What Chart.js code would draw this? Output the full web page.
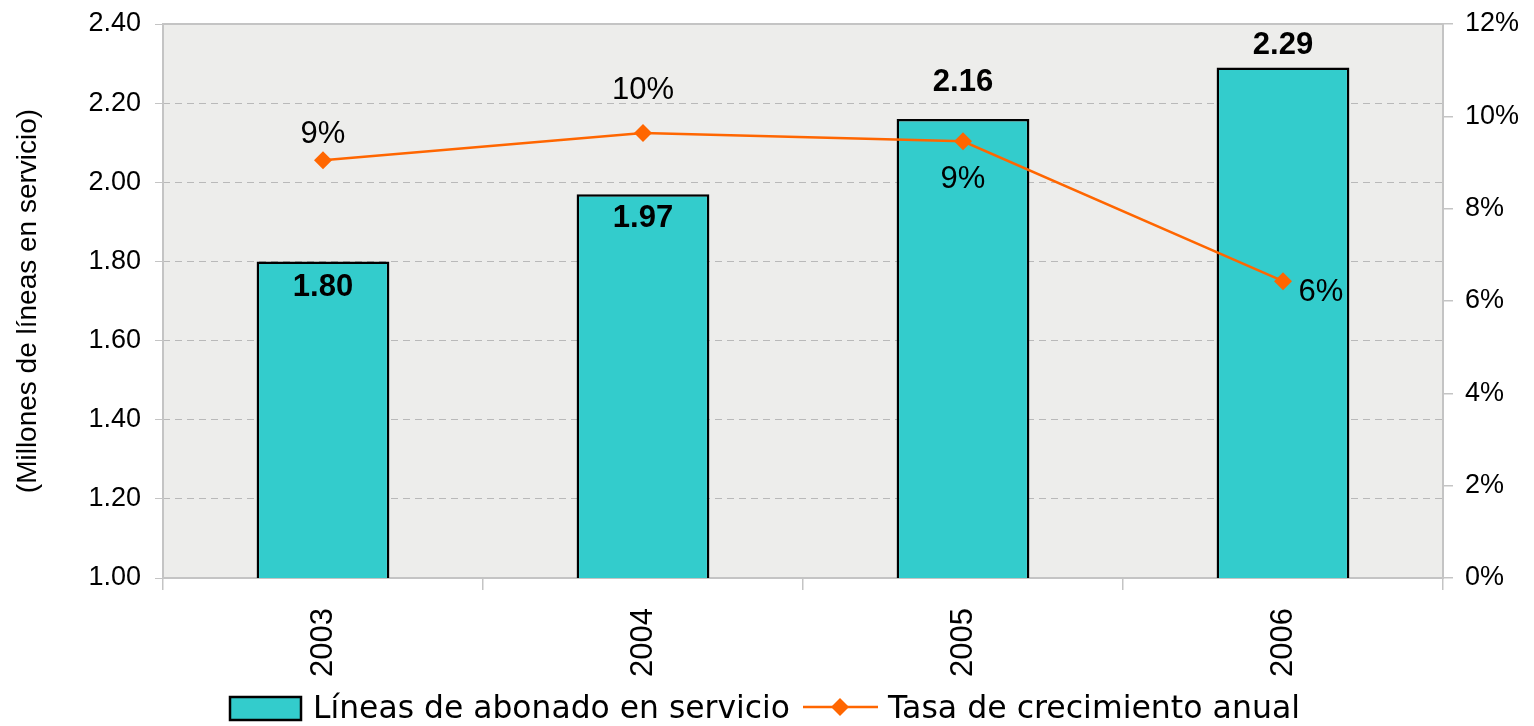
<!DOCTYPE html>
<html>
<head>
<meta charset="utf-8">
<script src="https://cdn.jsdelivr.net/npm/chart.js@4"></script>
<style>
  html, body { margin: 0; padding: 0; background: #ffffff; }
  #wrap { width: 1534px; height: 726px; }
</style>
</head>
<body>
<div id="wrap"><canvas id="c" width="1534" height="726"></canvas></div>
<script>
// ---- data ----
const categories = ['2003', '2004', '2005', '2006'];
const lineasValues = [1.80, 1.97, 2.16, 2.29];        // millones de líneas
const tasaValues = [9.05, 9.64, 9.46, 6.43];           // % crecimiento anual
const leftTickValues = [1.00, 1.20, 1.40, 1.60, 1.80, 2.00, 2.20, 2.40];
const rightTickValues = [0, 2, 4, 6, 8, 10, 12];
const seriesNames = ['Líneas de abonado en servicio', 'Tasa de crecimiento anual'];
const yAxisTitle = '(Millones de líneas en servicio)';

// ---- styles ----
const TEAL = '#33CCCC';
const ORANGE = '#FF6600';
const FRAME = '#c4c4c4';
const TXT = '#000000';

// label placement (style only)
const barLabelDy = [26, 24, -37, -22];
const lineLabelOffsets = [{dx: 0, dy: -26}, {dx: 0, dy: -43}, {dx: 0, dy: 38}, {dx: 38, dy: 11}];

const bgPlugin = {
  id: 'bgFrame',
  beforeDraw(chart) {
    const {ctx, chartArea: a} = chart;
    ctx.save();
    ctx.fillStyle = '#ededeb';
    ctx.fillRect(a.left, a.top, a.right - a.left, a.bottom - a.top);
    ctx.restore();
  },
  beforeDatasetsDraw(chart) {
    const {ctx, chartArea: a} = chart;
    ctx.save();
    ctx.strokeStyle = FRAME;
    ctx.lineWidth = 2;
    ctx.strokeRect(a.left, a.top, a.right - a.left, a.bottom - a.top);
    ctx.restore();
  }
};

const labelPlugin = {
  id: 'valueLabels',
  afterDatasetsDraw(chart) {
    const ctx = chart.ctx;
    ctx.save();
    ctx.textAlign = 'center';
    ctx.textBaseline = 'middle';
    ctx.fillStyle = TXT;
    const barMeta = chart.getDatasetMeta(0);
    ctx.font = 'bold 31px "Liberation Sans", Arial, sans-serif';
    barMeta.data.forEach((el, i) => {
      ctx.fillText(lineasValues[i].toFixed(2), el.x, el.y + barLabelDy[i]);
    });
    const lineMeta = chart.getDatasetMeta(1);
    ctx.font = '31px "Liberation Sans", Arial, sans-serif';
    lineMeta.data.forEach((el, i) => {
      const o = lineLabelOffsets[i];
      ctx.fillText(Math.round(tasaValues[i]) + '%', el.x + o.dx, el.y + o.dy);
    });
    ctx.restore();
  }
};

function fittedText(ctx, text, x, y, width) {
  const w = ctx.measureText(text).width;
  ctx.save();
  ctx.translate(x, y);
  ctx.scale(width / w, 1);
  ctx.fillText(text, 0, 0);
  ctx.restore();
}

const legendPlugin = {
  id: 'customLegend',
  afterDraw(chart) {
    const ctx = chart.ctx;
    const W = chart.width;
    ctx.save();
    // legend band (hides the lower end of the rotated year labels, as in the original)
    ctx.fillStyle = '#ffffff';
    ctx.fillRect(0, 676, W, chart.height - 676);
    // bar entry
    ctx.fillStyle = TEAL;
    ctx.fillRect(230, 697, 71, 23);
    ctx.strokeStyle = '#000';
    ctx.lineWidth = 2.5;
    ctx.strokeRect(230, 697, 71, 23);
    ctx.fillStyle = TXT;
    ctx.font = '32px "DejaVu Sans", Verdana, sans-serif';
    ctx.textBaseline = 'alphabetic';
    ctx.textAlign = 'left';
    fittedText(ctx, chart.data.datasets[0].label, 313, 718, 477);
    // line entry
    ctx.strokeStyle = ORANGE;
    ctx.lineWidth = 2.5;
    ctx.beginPath();
    ctx.moveTo(803, 707);
    ctx.lineTo(878, 707);
    ctx.stroke();
    ctx.fillStyle = ORANGE;
    ctx.beginPath();
    ctx.moveTo(840, 698); ctx.lineTo(849, 707); ctx.lineTo(840, 716); ctx.lineTo(831, 707);
    ctx.closePath();
    ctx.fill();
    ctx.fillStyle = TXT;
    fittedText(ctx, chart.data.datasets[1].label, 888, 718, 412);
    ctx.restore();
  }
};

new Chart(document.getElementById('c'), {
  data: {
    labels: categories,
    datasets: [
      {
        type: 'bar',
        label: seriesNames[0],
        data: lineasValues,
        backgroundColor: TEAL,
        borderColor: '#000000',
        borderWidth: 2.5,
        borderSkipped: false,
        barPercentage: 0.415,
        categoryPercentage: 1.0,
        yAxisID: 'y',
        order: 1
      },
      {
        type: 'line',
        label: seriesNames[1],
        data: tasaValues,
        borderColor: ORANGE,
        borderWidth: 2.5,
        pointStyle: 'rectRot',
        pointRadius: 9,
        pointBackgroundColor: ORANGE,
        pointBorderColor: ORANGE,
        pointBorderWidth: 0,
        tension: 0,
        yAxisID: 'y1',
        order: 0
      }
    ]
  },
  options: {
    responsive: false,
    animation: false,
    devicePixelRatio: 1,
    layout: { padding: { top: 24, left: 0, right: 0, bottom: 0 } },
    plugins: {
      legend: { display: false },
      tooltip: { enabled: false }
    },
    scales: {
      x: {
        type: 'category',
        offset: true,
        grid: { display: true, drawOnChartArea: false, offset: true, tickLength: 12, color: FRAME, lineWidth: 1.5 },
        border: { display: false },
        ticks: {
          color: TXT,
          minRotation: 90, maxRotation: 90,
          padding: 18,
          font: { family: '"Liberation Sans", Arial, sans-serif', size: 31 }
        },
        afterFit(s) { s.height = 148; s.paddingLeft = 0; s.paddingRight = 0; }
      },
      y: {
        position: 'left',
        min: 1.0, max: 2.4,
        afterBuildTicks(s) { s.ticks = leftTickValues.map(v => ({value: v})); },
        ticks: {
          color: TXT,
          padding: 14,
          font: { family: '"Liberation Sans", Arial, sans-serif', size: 27 },
          callback: v => Number(v).toFixed(2)
        },
        grid: { color: '#b9b9b9', lineWidth: 1, tickLength: 8, tickColor: FRAME, tickBorderDash: [] },
        border: { display: false, dash: [7, 5] },
        title: {
          display: true,
          text: yAxisTitle,
          color: TXT,
          font: { family: '"Liberation Sans", Arial, sans-serif', size: 28 },
          padding: { top: 11, bottom: 0 }
        },
        afterFit(s) { s.width = 163; s.paddingTop = 0; s.paddingBottom = 0; }
      },
      y1: {
        position: 'right',
        min: 0, max: 12,
        afterBuildTicks(s) { s.ticks = rightTickValues.map(v => ({value: v})); },
        ticks: {
          color: TXT,
          padding: 12,
          font: { family: '"Liberation Sans", Arial, sans-serif', size: 27 },
          callback: v => v + '%'
        },
        grid: { drawOnChartArea: false, tickLength: 10, color: FRAME, lineWidth: 1.5 },
        border: { display: false },
        afterFit(s) { s.width = 91; s.paddingTop = 0; s.paddingBottom = 0; }
      }
    }
  },
  plugins: [bgPlugin, labelPlugin, legendPlugin]
});
</script>
</body>
</html>
